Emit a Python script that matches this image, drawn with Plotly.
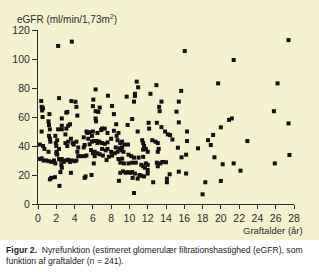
import plotly.graph_objects as go

# Graft age (years) and eGFR (ml/min/1,73m2)
graft_age = [
    0.35, 0.4, 0.55, 0.45, 0.5, 1.25, 2.2, 3.7, 2.3, 3.65, 4.1, 3.2, 4.2, 4.3,
    0.4, 1.2, 1.3, 1.15, 2.2, 2.6, 2.6, 3.1, 3.3, 3.5, 3.0, 2.6, 3.1,
    0.2, 0.55, 0.7, 1.2, 1.3, 1.35, 1.9, 1.95, 2.0, 2.1, 2.05, 1.15, 2.3, 3.0, 3.2, 3.3, 3.6, 3.8, 3.9, 4.2, 4.4, 4.3,
    0.15, 0.4, 0.6, 0.9, 1.2, 1.5, 1.75, 1.9, 2.0, 2.1, 2.3, 2.5, 2.6, 2.8, 3.0, 3.3, 3.5, 3.7, 4.0, 4.2, 4.4, 2.6, 2.55,
    1.3, 1.45, 1.85, 2.45, 2.35, 3.6,
    4.7, 5.1, 5.3, 5.0, 5.1, 5.65, 5.4, 5.6, 5.3, 5.0, 5.5, 5.9, 6.0,
    6.3, 6.05, 7.65, 6.3, 6.6, 6.75, 6.0, 6.35, 6.3, 8.1, 8.3, 8.55,
    6.4, 6.7, 7.0, 7.3, 7.6, 5.9, 6.1, 6.5,
    6.9, 7.3, 7.6, 7.0, 6.5, 8.0, 8.3, 8.6, 8.8,
    5.8, 6.0, 6.2, 6.5, 6.75, 7.1, 7.5, 7.75, 8.1, 8.4, 8.7, 8.9, 9.1, 8.8, 9.2,
    6.2, 6.1, 7.4, 7.0, 7.6, 8.0, 8.5, 8.7, 9.0, 5.1, 5.2, 5.85,
    9.0, 9.3, 9.6, 9.8, 10.1, 10.3, 8.85,
    10.8, 10.95, 12.95, 10.6, 10.6, 9.7, 12.3, 10.5, 13.5, 13.25, 13.3,
    9.8, 10.3, 12.1, 12.15, 13.0, 13.5, 10.9,
    9.2, 9.45, 9.2, 9.85, 9.35, 11.4, 11.5, 11.6, 11.8, 11.5, 12.0, 12.5, 12.85, 13.1, 13.2, 13.1,
    10.5, 11.0, 11.5, 9.9, 10.2,
    9.0, 9.4, 9.9, 10.3, 10.7, 11.3, 11.8, 12.0, 13.0, 13.4, 13.6, 13.1, 11.5, 11.7, 12.0,
    10.6, 10.35, 10.9, 11.1, 11.3, 11.6, 12.0, 12.6, 10.5,
    16.05, 15.66, 15.4, 15.15, 15.4, 13.9, 14.2, 14.45, 14.7, 16.3, 16.3, 15.3, 15.7, 16.2,
    17.5, 18.6, 14.0, 14.4, 14.1, 14.1, 15.4, 16.2, 18.3, 18.0,
    27.4, 21.4, 19.7, 26.2, 25.8, 27.4, 20.9, 21.2, 20.0, 19.15, 18.9, 22.9, 19.3, 20.2,
    21.4, 22.15, 25.9, 27.5, 20.0,
]
egfr = [
    71, 67, 66, 64.5, 60, 62, 109, 112, 73, 71, 70.5, 63.5, 67, 61,
    50, 54.5, 51.5, 57, 51.5, 51.5, 54, 52, 54, 55, 48, 59, 63,
    41, 40, 38, 47, 45, 43, 47, 42, 40, 44, 36, 36, 38, 42, 40, 43, 45, 42, 41, 43, 39, 36,
    31, 31.5, 30, 30, 29.5, 29, 30, 28, 35, 34, 31, 30, 31, 29, 30, 30.5, 29, 30, 29.5, 30, 33, 25, 27,
    17, 18, 18.5, 22, 12.5, 21.5,
    33, 33, 33.5, 39, 40.7, 41.2, 49, 49.5, 50, 46, 45, 47, 50,
    79, 72, 74.7, 64, 63.5, 66.5, 67.5, 57, 59, 67.6, 62, 55,
    43.5, 43, 42, 41.5, 42.5, 43, 43.5, 42,
    51, 52, 49, 52, 49, 45, 50.5, 47, 49,
    37.2, 35, 36, 35, 34.3, 33.4, 30.3, 32.6, 33.4, 35, 36, 38.4, 37, 31, 31.3,
    33, 28, 37, 38, 38, 36, 39, 44, 42, 18, 19, 20,
    21.5, 22.5, 21.5, 22, 21.5, 22, 16,
    84.4, 80.5, 82, 76, 74.5, 74, 76, 70.6, 70.6, 67, 64,
    54.5, 58.6, 56, 52, 56, 53, 50,
    43, 41, 39, 41, 36, 44, 42, 40, 38, 37.5, 36, 44, 43, 42, 38, 36,
    32, 32, 32.5, 34, 33,
    28.5, 28, 28, 28.5, 28.5, 27, 28, 27, 28.5, 28, 29, 26, 26, 25, 23.5,
    21, 18, 17.5, 20, 19.5, 19, 21, 15, 7.6,
    105.5, 78, 70.6, 63.7, 56.3, 50, 48, 47.5, 44.5, 50, 43.4, 38.8, 32.2, 34,
    38.4, 44, 28.8, 20.5, 17.5, 15, 22.3, 21, 15, 6.7,
    113, 99.3, 83.2, 83.2, 64, 55.6, 58, 59, 52.9, 47.6, 40.7, 43.4, 32.2, 27.4,
    28, 23, 28, 33.8, 15.9,
]

x_ticks = list(range(0, 29, 2))
y_ticks = list(range(0, 121, 20))

y_title = "eGFR (ml/min/1,73m<sup>2</sup>)"
x_title = "Graftalder (år)"
caption = ("<b>Figur 2.</b>  Nyrefunktion (estimeret glomerulær filtrationshastighed (eGFR), som"
           "<br>funktion af graftalder (n = 241).")

CREAM = "#F4F2CF"
INK = "#2b2b2b"
FONT = "Liberation Sans, Arial, sans-serif"

fig = go.Figure(go.Scatter(
    x=graft_age, y=egfr, mode="markers",
    marker=dict(symbol="square", size=4, color="#111111", line=dict(width=0)),
    cliponaxis=False, hoverinfo="skip",
))

W, H = 319, 274
L, R, T, B = 35, 25, 30, 70
pw, ph = W - L - R, H - T - B

def px_x(p):
    return (p - L) / pw

def px_y(p):
    return (H - B - p) / ph

fig.update_layout(
    width=W, height=H, autosize=False,
    margin=dict(l=L, r=R, t=T, b=B, pad=0),
    paper_bgcolor="white", plot_bgcolor=CREAM,
    showlegend=False,
    font=dict(family=FONT, size=10.5, color=INK),
    xaxis=dict(range=[0, 28], tickvals=x_ticks, ticks="outside", ticklen=4, tickwidth=1,
               tickcolor=INK, showline=True, linecolor=INK, linewidth=1,
               showgrid=False, zeroline=False, tickfont=dict(size=10.5, color=INK, family=FONT)),
    yaxis=dict(range=[0, 120], tickvals=y_ticks, ticks="outside", ticklen=5, tickwidth=1,
               tickcolor=INK, showline=True, linecolor=INK, linewidth=1,
               showgrid=False, zeroline=False, tickfont=dict(size=10.5, color=INK, family=FONT)),
    shapes=[dict(type="rect", xref="paper", yref="paper",
                 x0=px_x(-5), x1=px_x(W + 5), y0=px_y(240), y1=px_y(-5),
                 fillcolor=CREAM, line=dict(width=0), layer="below")],
    annotations=[
        dict(text=y_title, xref="paper", yref="paper", x=px_x(12), y=px_y(18.5),
             xanchor="left", yanchor="middle", showarrow=False,
             font=dict(size=10, color=INK, family=FONT)),
        dict(text=x_title, xref="paper", yref="paper", x=px_x(305), y=px_y(230),
             xanchor="right", yanchor="middle", showarrow=False,
             font=dict(size=9.5, color=INK, family=FONT)),
        dict(text=caption, xref="paper", yref="paper", x=px_x(1), y=px_y(243),
             xanchor="left", yanchor="top", align="left", showarrow=False,
             font=dict(size=8.6, color="#222222", family=FONT)),
    ],
)

fig.write_html("out.html")
